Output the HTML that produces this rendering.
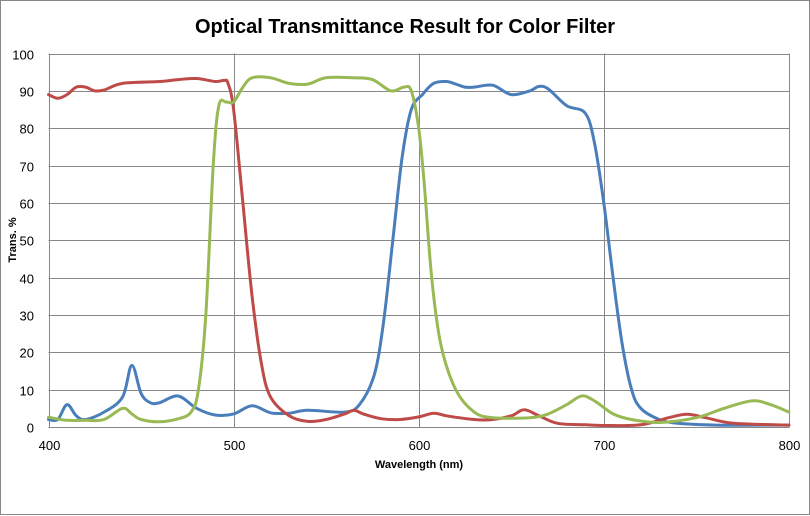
<!DOCTYPE html>
<html><head><meta charset="utf-8"><style>
html,body{margin:0;padding:0;background:#fff}
svg{display:block;font-family:"Liberation Sans","DejaVu Sans",sans-serif}
</style></head><body>
<svg id="s" width="810" height="516" viewBox="0 0 810 516">
<rect x="0.5" y="0.5" width="809" height="514" fill="#fff" stroke="#888"/>
<text x="405" y="33" text-anchor="middle" font-size="20" font-weight="bold" fill="#000">Optical Transmittance Result for Color Filter</text>
<g id="grid" stroke="#888" stroke-width="1"></g>
<g id="labels" font-size="13" fill="#000"></g>
<text x="419" y="468" text-anchor="middle" font-size="11" font-weight="bold">Wavelength (nm)</text>
<text transform="translate(16,240) rotate(-90)" text-anchor="middle" font-size="11" font-weight="bold">Trans. %</text>
<g id="curves" fill="none" stroke-width="3" stroke-linejoin="round" stroke-linecap="round"></g>
</svg>
<script>
const X=n=>48.5+(n-400)*1.851, Y=v=>427-v*3.735;
const ns="http://www.w3.org/2000/svg";
const g=document.getElementById('grid'),lb=document.getElementById('labels');
function el(p,t,a,txt){const e=document.createElementNS(ns,t);for(const k in a)e.setAttribute(k,a[k]);if(txt!=null)e.textContent=txt;p.appendChild(e);return e;}
for(let v=0;v<=100;v+=10){const y=Math.round(Y(v))+0.5;el(g,'line',{x1:48.5,x2:789.5,y1:y,y2:y});el(lb,'text',{x:34,y:y+5,'text-anchor':'end'},v);}
for(let n=400;n<=800;n+=100){const x=Math.round(X(n))+0.5;el(g,'line',{x1:x,x2:x,y1:Y(100),y2:Y(0)});el(lb,'text',{x:x,y:450,'text-anchor':'middle'},n);}
const B=[[400,2],[405,2],[410,6],[415,3],[420,2],[430,4],[440,8],[445,16.5],[450,9],[455,6.5],[460,6.5],[470,8.3],[480,5],[490,3.2],[500,3.5],[510,5.7],[520,3.8],[530,3.7],[540,4.5],[560,4],[568,6],[576,14],[581,28],[586,50],[591,72],[596,85],[602,89],[608,92],[615,92.5],[620,91.8],[625,91],[630,91],[640,91.5],[650,89],[660,90],[665,91.2],[670,90.5],[680,86],[690,84],[695,76],[700,60],[705,40],[710,22],[715,10],[720,5],[730,2],[740,1],[760,0.5],[800,0.5]];
const R=[[400,89],[405,88],[410,89],[415,91],[420,91],[425,90],[430,90.2],[440,92],[460,92.5],[470,93],[480,93.3],[490,92.5],[495,92.8],[497,92],[500,85],[505,60],[510,35],[515,17],[520,8],[530,3],[540,1.5],[550,2],[560,3.5],[565,4.5],[570,3.5],[580,2.2],[590,2],[600,2.7],[608,3.7],[615,3],[630,2],[640,2],[650,3],[657,4.6],[665,3],[675,1],[690,0.6],[700,0.4],[720,0.6],[735,2.5],[745,3.4],[755,2.5],[770,1],[800,0.5]];
const G=[[400,2.6],[410,1.8],[420,1.8],[430,2],[440,5],[445,3.5],[450,2],[460,1.4],[470,2.2],[477,4],[481,10],[485,30],[489,70],[492,86],[496,87],[500,87],[505,91],[510,93.5],[520,93.5],[530,92],[540,91.8],[550,93.5],[565,93.5],[575,93],[585,90],[592,91],[596,90],[600,80],[603,65],[607,40],[612,22],[620,10],[630,4],[640,2.5],[660,2.5],[670,3.5],[680,6],[688,8.3],[695,7],[705,3.5],[715,2],[730,1.2],[750,2.5],[765,5],[780,7],[790,6],[800,4]];
function path(d){const p=d.map(([n,v])=>[X(n),Y(v)]);let s=`M${p[0][0]},${p[0][1]}`;
for(let i=0;i<p.length-1;i++){const p0=p[i-1]||p[i],p1=p[i],p2=p[i+1],p3=p[i+2]||p2;
const c1=[p1[0]+(p2[0]-p0[0])/6,p1[1]+(p2[1]-p0[1])/6],c2=[p2[0]-(p3[0]-p1[0])/6,p2[1]-(p3[1]-p1[1])/6];
s+=` C${c1[0].toFixed(1)},${c1[1].toFixed(1)} ${c2[0].toFixed(1)},${c2[1].toFixed(1)} ${p2[0].toFixed(1)},${p2[1].toFixed(1)}`;}return s;}
const c=document.getElementById('curves');
el(c,'path',{d:path(B),stroke:'#4a7ebb'});
el(c,'path',{d:path(R),stroke:'#be4b48'});
el(c,'path',{d:path(G),stroke:'#98b954'});
</script>
</body></html>
